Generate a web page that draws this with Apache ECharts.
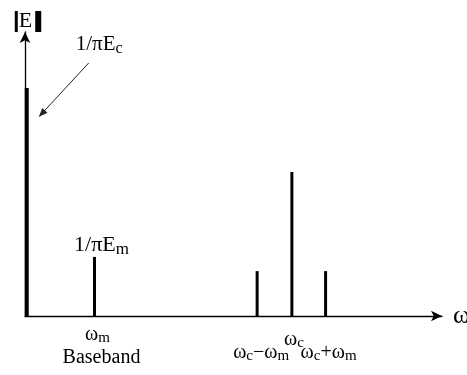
<!DOCTYPE html>
<html>
<head>
<meta charset="utf-8">
<script src="https://cdn.jsdelivr.net/npm/echarts@6/dist/echarts.min.js"></script>
<style>html,body{margin:0;padding:0;background:#fff}#c{width:467px;height:375px}</style>
</head>
<body>
<div id="c"></div>
<script>
// Spectral line positions (arbitrary frequency units) and amplitudes
const lineNames = ['carrier-dc', 'ωm', 'ωc−ωm', 'ωc', 'ωc+ωm'];
const positions = [0.05, 2.0, 6.68, 7.68, 8.65];
const amplitudes = [8.03, 2.08, 1.58, 5.07, 1.58];
// Tick-style labels under the axis (rich text)
const axisLabels = ['', 'ω{s|m}', 'ω{s|c}−ω{s|m}', 'ω{s|c}', 'ω{s|c}+ω{s|m}'];
const peakLabels = ['1/πE{s|c}', '1/πE{s|m}', '', '', ''];
const baseLabel = 'Baseband';

const FONT = '"Liberation Serif", "Times New Roman", serif';
const chart = echarts.init(document.getElementById('c'), null, {renderer: 'canvas'});
const data = positions.map((p, i) => [p, amplitudes[i]]);

function renderItem(params, api) {
  const i = params.dataIndex;
  const x = api.value(0), y = api.value(1);
  const p0 = api.coord([x, 0]);
  const p1 = api.coord([x, y]);
  const children = [{
    type: 'line',
    shape: {x1: p0[0], y1: p0[1], x2: p1[0], y2: p1[1]},
    style: {stroke: '#000', lineWidth: i === 0 ? 4 : 3}
  }];
  const sub = {s: {fontFamily: FONT, fontSize: 15, padding: [8, 0, 0, 0]}};
  if (axisLabels[i]) {
    let dy = 12, dx = 2;
    if (i === 2) { dy = 25; dx = 4; }
    if (i === 4) { dy = 25; dx = 3; }
    if (i === 1) { dy = 7; dx = 3; }
    children.push({
      type: 'text',
      x: p0[0] + dx, y: p0[1] + dy,
      style: {text: axisLabels[i], fontFamily: FONT, fontSize: 20, align: 'center', verticalAlign: 'top', fill: '#000', rich: sub}
    });
  }
  if (i === 1) {
    children.push({
      type: 'text', x: p0[0] + 7, y: p0[1] + 32,
      style: {text: baseLabel, fontFamily: FONT, fontSize: 20, align: 'center', verticalAlign: 'top', fill: '#000'}
    });
    children.push({
      type: 'text', x: p1[0] + 7, y: p1[1] + 1,
      style: {text: peakLabels[i], fontFamily: FONT, fontSize: 22, align: 'center', verticalAlign: 'bottom', fill: '#000', rich: {s: {fontFamily: FONT, fontSize: 17, padding: [8, 0, 0, 0]}}}
    });
  }
  if (i === 0) {
    const ax = p1[0] + 62, ay = p1[1] - 25;   // arrow tail
    const bx = p1[0] + 12, by = p1[1] + 29;   // arrow head
    const dxv = bx - ax, dyv = by - ay, L = Math.hypot(dxv, dyv);
    const ux = dxv / L, uy = dyv / L, hl = 9, hw = 3.5;
    children.push({type: 'line', shape: {x1: ax, y1: ay, x2: bx - ux * hl * 0.8, y2: by - uy * hl * 0.8}, style: {stroke: '#222', lineWidth: 1}});
    children.push({type: 'polygon', shape: {points: [[bx, by], [bx - ux * hl - uy * hw, by - uy * hl + ux * hw], [bx - ux * hl + uy * hw, by - uy * hl - ux * hw]]}, style: {fill: '#222'}});
    children.push({
      type: 'text', x: p1[0] + 49, y: p1[1] - 31,
      style: {text: peakLabels[i], fontFamily: FONT, fontSize: 21, align: 'left', verticalAlign: 'bottom', fill: '#000', rich: {s: {fontFamily: FONT, fontSize: 16, padding: [8, 0, 0, 0]}}}
    });
  }
  return {type: 'group', children: children};
}

chart.setOption({
  animation: false,
  backgroundColor: '#fff',
  grid: {left: 25, right: 25, top: 32, bottom: 59, outerBoundsMode: 'none', containLabel: false},
  xAxis: {
    type: 'value', min: 0, max: 12,
    axisLine: {show: true, onZero: false, symbol: ['none', 'arrow'], symbolSize: [8, 11], lineStyle: {color: '#000', width: 1.3}},
    axisTick: {show: false}, axisLabel: {show: false}, splitLine: {show: false},
    name: 'ω', nameLocation: 'end', nameGap: 11,
    nameTextStyle: {fontFamily: FONT, fontSize: 26, color: '#000', verticalAlign: 'middle', align: 'left', padding: [0, 0, 2, 0]}
  },
  yAxis: {
    type: 'value', min: 0, max: 10,
    axisLine: {show: true, onZero: false, symbol: ['none', 'arrow'], symbolSize: [8, 11], lineStyle: {color: '#000', width: 1.3}},
    axisTick: {show: false}, axisLabel: {show: false}, splitLine: {show: false},
    name: '{b|}{e|E}{c|}', nameLocation: 'end', nameGap: 0,
    nameTextStyle: {
      align: 'center', verticalAlign: 'bottom', padding: [0, 0, 0, 6],
      rich: {
        b: {backgroundColor: '#000', width: 3, height: 21},
        e: {fontFamily: FONT, fontSize: 22, color: '#000', padding: [0, 3, 0, 1], height: 21},
        c: {backgroundColor: '#000', width: 6, height: 21}
      }
    }
  },
  series: [{
    type: 'custom',
    renderItem: renderItem,
    data: data,
    clip: false,
    encode: {x: 0, y: 1}
  }]
});
</script>
</body>
</html>
